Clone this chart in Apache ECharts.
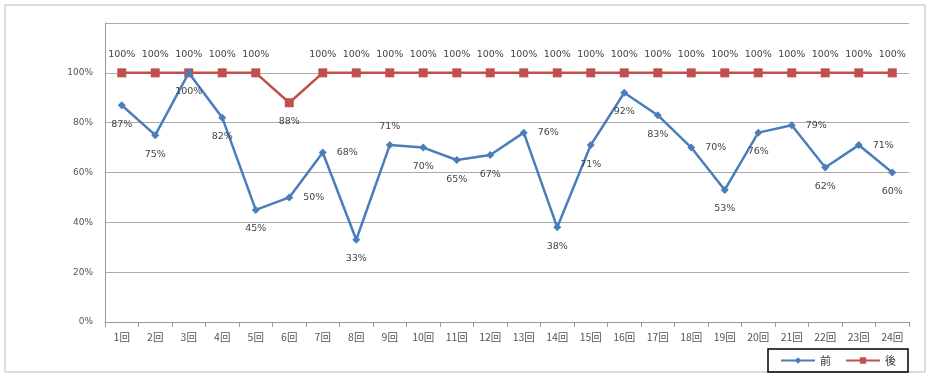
<!DOCTYPE html>
<html><head><meta charset="utf-8">
<script src="https://cdn.jsdelivr.net/npm/echarts@6/dist/echarts.min.js"></script>
<style>html,body{margin:0;padding:0;background:#fff}#c{width:932px;height:378px}</style>
</head><body><div id="c"></div>
<script>
const categories = ['1回','2回','3回','4回','5回','6回','7回','8回','9回','10回','11回','12回','13回','14回','15回','16回','17回','18回','19回','20回','21回','22回','23回','24回'];
const beforeVals = [87,75,100,82,45,50,68,33,71,70,65,67,76,38,71,92,83,70,53,76,79,62,71,60];
const afterVals = [100,100,100,100,100,88,100,100,100,100,100,100,100,100,100,100,100,100,100,100,100,100,100,100];
const seriesNames = ['前','後'];
const yTicks = [0,20,40,60,80,100];

// label placement (style only)
const beforePos = ['bottom','bottom','bottom','bottom','bottom','right','right','bottom','top','bottom','bottom','bottom','right','bottom','bottom','bottom','bottom','right','bottom','bottom','right','bottom','right','bottom'];
const afterPos = afterVals.map((v,i)=> i===5 ? 'bottom' : 'top');

const lblFont = {fontFamily:'DejaVu Sans', fontSize:9.5, color:'#444'};
const chart = echarts.init(document.getElementById('c'));
chart.setOption({
  animation:false,
  graphic:[{type:'rect',shape:{x:5,y:5,width:920,height:367},style:{fill:'none',stroke:'#bbb',lineWidth:1},silent:true}],
  grid:{left:105,right:23,top:23,bottom:56},
  legend:{right:24,bottom:6,data:seriesNames,itemWidth:34,itemHeight:8,itemGap:14,
    borderColor:'#000',borderWidth:1.5,padding:[6,12,6,12],
    textStyle:{fontFamily:'Noto Sans CJK SC',fontSize:11,color:'#333'}},
  xAxis:{type:'category',data:categories,boundaryGap:true,
    axisLine:{lineStyle:{color:'#999'}},axisTick:{show:true,lineStyle:{color:'#999'}},
    axisLabel:{fontFamily:'Noto Sans CJK JP',fontSize:10.5,color:'#555',interval:0,margin:10}},
  yAxis:{type:'value',min:0,max:120,interval:20,
    axisLine:{show:true,lineStyle:{color:'#999'}},
    axisLabel:{fontFamily:'DejaVu Sans',fontSize:9,color:'#555',margin:12,
      formatter:v=> yTicks.includes(v) ? v+'%' : ''},
    splitLine:{show:true,lineStyle:{color:'#aaa'}}},
  series:[
    {name:seriesNames[0],type:'line',symbol:'diamond',symbolSize:8,
     itemStyle:{color:'#4a7ebb'},lineStyle:{color:'#4a7ebb',width:2.5},
     data:beforeVals.map((v,i)=>({value:v,label:{position:beforePos[i]}})),
     label:{show:true,formatter:p=>p.value+'%',distance:10,...lblFont},z:3},
    {name:seriesNames[1],type:'line',symbol:'rect',symbolSize:9,
     itemStyle:{color:'#c0504d'},lineStyle:{color:'#c0504d',width:2.5},
     data:afterVals.map((v,i)=>({value:v,label:{position:afterPos[i]}})),
     label:{show:true,formatter:p=>p.value+'%',distance:9,...lblFont},z:2}
  ]
});
</script></body></html>
